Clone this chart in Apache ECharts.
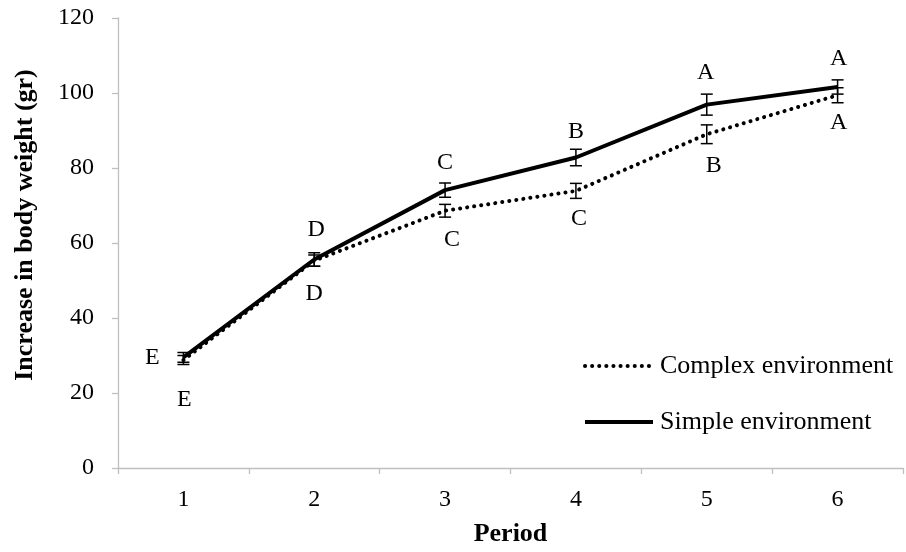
<!DOCTYPE html>
<html>
<head>
<meta charset="utf-8">
<script src="https://cdn.jsdelivr.net/npm/echarts@6/dist/echarts.min.js"></script>
<style>html,body{margin:0;padding:0;background:#fff}#c{width:906px;height:552px}</style>
</head>
<body>
<div id="c"></div>
<script>
const periods = ['1', '2', '3', '4', '5', '6'];
const complexValues = [28.8, 55.3, 68.6, 73.9, 89.0, 99.4];
const simpleValues = [29.5, 55.6, 74.1, 82.8, 96.9, 101.6];
const complexErr = [1.2, 1.5, 1.7, 2.0, 2.5, 2.0];
const simpleErr = [1.3, 1.8, 1.9, 2.2, 2.8, 1.9];
const complexLetters = ['E', 'D', 'C', 'C', 'B', 'A'];
const simpleLetters = ['E', 'D', 'C', 'B', 'A', 'A'];
const yTicks = [0, 20, 40, 60, 80, 100, 120];

// label placement offsets (px) relative to the point
const simpleOffsets = [[-31, 0], [2, -30], [0, -27], [0, -26], [-1, -32], [1, -28]];
const complexOffsets = [[1, 40], [0, 33], [7, 29], [3, 28], [7, 31], [1, 27]];

const FONT = '"Liberation Serif", "Times New Roman", serif';
const chart = echarts.init(document.getElementById('c'));

function errSeries(name, vals, errs, letters, offsets) {
  return {
    name: name + ' err',
    type: 'custom',
    z: 5,
    data: vals.map((v, i) => [i, v, errs[i]]),
    renderItem(params, api) {
      const i = api.value(0), v = api.value(1), e = api.value(2);
      const c = api.coord([i, v]);
      const t = api.coord([i, v + e]);
      const b = api.coord([i, v - e]);
      const hw = 6;
      const st = { stroke: '#000', lineWidth: 1.5 };
      const off = offsets[params.dataIndex];
      return {
        type: 'group',
        children: [
          { type: 'line', shape: { x1: c[0], y1: t[1], x2: c[0], y2: b[1] }, style: st },
          { type: 'line', shape: { x1: c[0] - hw, y1: t[1], x2: c[0] + hw, y2: t[1] }, style: st },
          { type: 'line', shape: { x1: c[0] - hw, y1: b[1], x2: c[0] + hw, y2: b[1] }, style: st },
          { type: 'text', x: c[0] + off[0], y: c[1] + off[1],
            style: { text: letters[params.dataIndex], fill: '#000', font: '24px ' + FONT, align: 'center', verticalAlign: 'middle' } }
        ]
      };
    }
  };
}

chart.setOption({
  animation: false,
  backgroundColor: '#fff',
  grid: { left: 118, right: 3, top: 18, bottom: 80 },
  legend: {
    data: ['Complex environment', 'Simple environment'],
    orient: 'vertical',
    left: 578,
    top: 346,
    itemWidth: 68,
    itemHeight: 14,
    itemGap: 26,
    itemStyle: { opacity: 0 },
    lineStyle: { width: 4 },
    textStyle: { fontFamily: FONT, fontSize: 26, color: '#000', lineHeight: 30, padding: [0, 0, 0, 2] }
  },
  xAxis: {
    type: 'category',
    data: periods,
    boundaryGap: true,
    name: 'Period',
    nameLocation: 'middle',
    nameGap: 53,
    nameTextStyle: { fontFamily: FONT, fontSize: 26, fontWeight: 'bold', color: '#000' },
    axisLine: { lineStyle: { color: '#bfbfbf', width: 1.3 } },
    axisTick: { show: true, length: 6, lineStyle: { color: '#bfbfbf', width: 1.3 } },
    axisLabel: { fontFamily: FONT, fontSize: 24, color: '#000', margin: 20 }
  },
  yAxis: {
    type: 'value',
    min: 0, max: 120, interval: 20,
    name: 'Increase in body weight (gr)',
    nameLocation: 'middle',
    nameGap: 80,
    nameTextStyle: { fontFamily: FONT, fontSize: 26, fontWeight: 'bold', color: '#000', padding: [0, 0, 0, 36] },
    axisLine: { show: true, lineStyle: { color: '#bfbfbf', width: 1.3 } },
    axisTick: { show: true, length: 6, lineStyle: { color: '#bfbfbf', width: 1.3 } },
    splitLine: { show: false },
    axisLabel: { fontFamily: FONT, fontSize: 24, color: '#000', margin: 24,
      formatter: v => yTicks.includes(v) ? String(v) : '' }
  },
  series: [
    {
      name: 'Complex environment',
      type: 'line',
      data: complexValues,
      symbol: 'none',
      z: 3,
      itemStyle: { color: '#000' },
      lineStyle: { color: '#000', width: 4, type: [0.1, 7], cap: 'round' }
    },
    {
      name: 'Simple environment',
      type: 'line',
      data: simpleValues,
      symbol: 'none',
      z: 4,
      itemStyle: { color: '#000' },
      lineStyle: { color: '#000', width: 4 }
    },
    errSeries('Complex', complexValues, complexErr, complexLetters, complexOffsets),
    errSeries('Simple', simpleValues, simpleErr, simpleLetters, simpleOffsets)
  ]
});
</script>
</body>
</html>
